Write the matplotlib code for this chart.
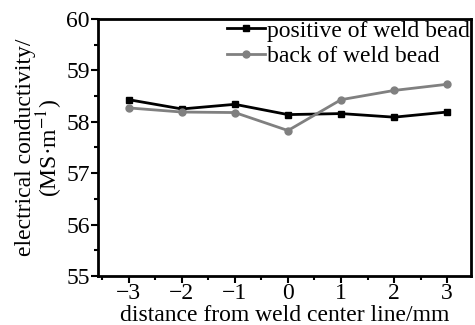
import numpy as np
import matplotlib.pyplot as plt
from matplotlib.ticker import MultipleLocator

plt.rcParams["font.family"] = ["Liberation Serif", "DejaVu Serif"]
plt.rcParams["mathtext.fontset"] = "stix"

distance = [-3, -2, -1, 0, 1, 2, 3]
positive = [58.43, 58.25, 58.34, 58.14, 58.16, 58.09, 58.19]
back = [58.27, 58.19, 58.18, 57.83, 58.43, 58.61, 58.73]

fig = plt.figure(figsize=(4.75, 3.25), dpi=100)
ax = fig.add_axes([98 / 475, 49 / 325, 373 / 475, 257 / 325])

ax.plot(distance, positive, color="black", lw=2, marker="s", ms=5,
        label="positive of weld bead")
ax.plot(distance, back, color="#808080", lw=2, marker="o", ms=5,
        label="back of weld bead")

ax.set_xlim(-3.58, 3.45)
ax.set_ylim(55, 60)
ax.xaxis.set_major_locator(MultipleLocator(1))
ax.xaxis.set_minor_locator(MultipleLocator(0.5))
ax.yaxis.set_major_locator(MultipleLocator(1))
ax.yaxis.set_minor_locator(MultipleLocator(0.5))
ax.set_xticks(distance, labels=["\u22123", "\u22122", "\u22121", "0", "1", "2", "3"])
ax.tick_params(which="both", direction="out", width=1.5, labelsize=17, pad=1)
ax.tick_params(axis="x", pad=0)
ax.tick_params(which="major", length=5)
ax.tick_params(which="minor", length=3)
for s in ax.spines.values():
    s.set_linewidth(2)

ax.set_xlabel("distance from weld center line/mm", fontsize=17, labelpad=0.5)
ax.set_ylabel("electrical conductivity/\n(MS\u00b7m$^{-1}$)", fontsize=17,
              labelpad=1, linespacing=0.95)

ax.legend(loc="upper right", frameon=False, fontsize=17, handlelength=1.6,
          handletextpad=0.1, borderaxespad=0.0, labelspacing=0.15,
          borderpad=0.05)

fig.savefig("out.png", dpi=100)
